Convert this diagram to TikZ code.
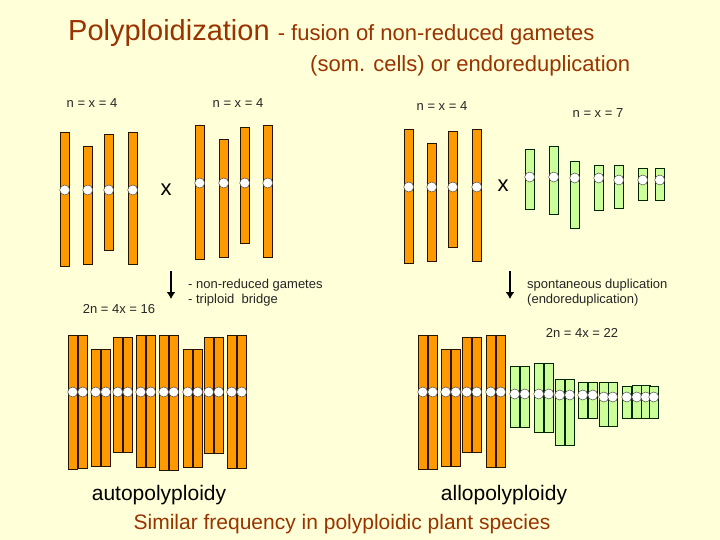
\documentclass[tikz,border=0pt]{standalone}
\usepackage{fontspec}
\setmainfont{Liberation Sans}
\usetikzlibrary{arrows.meta}
\definecolor{bg}{HTML}{FFFFD8}
\definecolor{orf}{HTML}{FF9900}
\definecolor{grf}{HTML}{CCFF99}
\definecolor{tit}{HTML}{993300}
\begin{document}
\begin{tikzpicture}[x=1pt,y=-1pt,
  orch/.style={draw=black!85!orange,fill=orf,line width=0.8pt},
  grch/.style={draw=black!85!green,fill=grf,line width=0.8pt},
  cen/.style={draw=black!70,fill=white,line width=0.5pt},
  lab/.style={font=\fontsize{13}{15}\selectfont,text=black!85},
  darr/.style={-{Latex[length=7pt,width=9pt]},line width=2.8pt}]
\fill[bg] (0,0) rectangle (720,540);
\useasboundingbox (0,0) rectangle (720,540);
\newcommand\chr[5]{\draw[#5] (#1,#2) rectangle ++(9.5,#3-#2);\draw[cen] (#1+4.75,#4) circle (5);}
% top left
\foreach \x/\t/\b in {60/132/266,83/146/264,104/134/250,128/132/264}{\chr{\x}{\t}{\b}{190}{orch}}
\foreach \x/\t/\b in {195/125/259,219/139/257,240/127/243,263/125/257}{\chr{\x}{\t}{\b}{183}{orch}}
\node (x1) at (166,190) {\fontsize{22}{22}\selectfont x};
% top right
\foreach \x/\t/\b in {404/129/263,427/143/261,448/131/247,472/129/261}{\chr{\x}{\t}{\b}{187}{orch}}
\node (x2) at (503,186) {\fontsize{22}{22}\selectfont x};
\foreach \x/\t/\b/\c in {525/149/209/177,549/146/214/177,570/161/228/178,594/165/210/178,614/165/208/180,638/168/200/180,655/168/200/180}{\chr{\x}{\t}{\b}{\c}{grch}}
% bottom left
\foreach \x/\t/\b in {68/335/469,78/335/468,91/349/466,101/349/466,113/337/452,123/337/452,136/335/467,146/335/467,159/335/470,169/335/470,183/349/467,193/349/467,204/337/453,214/337/453,227/335/468,237/335/468}{\chr{\x}{\t}{\b}{392}{orch}}
% bottom right
\foreach \x/\t/\b in {418/335/469,428/335/469,441/349/466,451/349/466,462/337/452,472/337/452,486/335/467,496/335/467}{\chr{\x}{\t}{\b}{392}{orch}}
\foreach \x/\t/\b/\c in {510/366/427/394,520/366/427/394,534/363/432/394,544/363/432/394,555/379/445/395,565/379/445/395,578/382/418/395,588/382/418/395,599/382/426/397,608/382/426/397,622/386/418/397,632/385/418/397,641/385/418/397,649/386/418/397}{\chr{\x}{\t}{\b}{\c}{grch}}
% arrows
\coordinate (a1) at (171,271); \coordinate (b1) at (171,299);
\coordinate (a2) at (510,271); \coordinate (b2) at (510,299);
\draw[darr] (a1) -- (b1);
\draw[darr] (a2) -- (b2);
% texts
\node[anchor=west,text=tit,inner sep=0pt] (t1) at (68,33) {\fontsize{29}{30}\selectfont Polyploidization \fontsize{22}{24}\selectfont - fusion of non-reduced gametes};
\node[anchor=west,text=tit,inner sep=0pt] (t2) at (310,66) {\fontsize{22}{24}\selectfont (som. cells) or endoreduplication};
\node[lab] (n1) at (92,103) {n = x = 4};
\node[lab] (n2) at (238,103) {n = x = 4};
\node[lab] (n3) at (442,106) {n = x = 4};
\node[lab] (n4) at (598,113) {n = x = 7};
\node[lab] (n5) at (119,309) {2n = 4x = 16};
\node[lab,anchor=west,align=left,inner sep=0pt] (n6) at (188,293) {- non-reduced gametes\\- triploid\ \ bridge};
\node[lab,anchor=west,align=left,inner sep=0pt] (n7) at (527,293) {spontaneous duplication\\(endoreduplication)};
\node[lab] (n8) at (582,333) {2n = 4x = 22};
\node (n9) at (159,495) {\fontsize{21}{24}\selectfont autopolyploidy};
\node (n10) at (504,495) {\fontsize{21}{24}\selectfont allopolyploidy};
\node[text=tit] (n11) at (342,524) {\fontsize{21}{24}\selectfont Similar frequency in polyploidic plant species};
\end{tikzpicture}
\end{document}
